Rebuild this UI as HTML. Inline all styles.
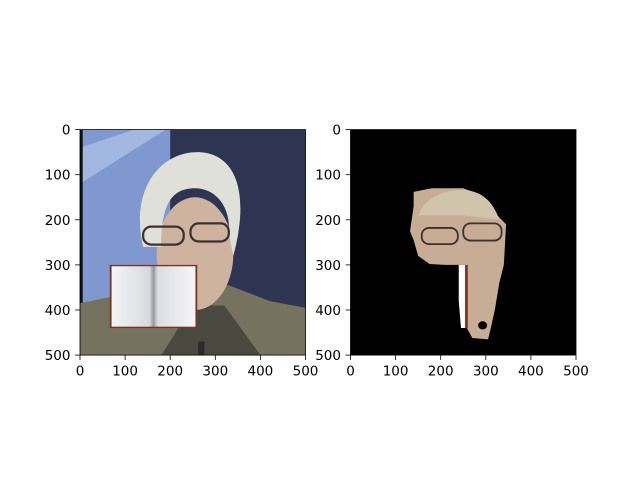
<!DOCTYPE html>
<html><head><meta charset="utf-8">
<style>
html,body{margin:0;padding:0;background:#fff;}
svg{display:block;font-family:"DejaVu Sans","Liberation Sans",sans-serif;}
</style></head>
<body>
<svg width="640" height="480" viewBox="0 0 640 480">
<defs>
<clipPath id="c1"><rect x="0" y="0" width="500" height="500"/></clipPath>
<linearGradient id="pg" x1="0" x2="1"><stop offset="0" stop-color="#f4f4f6"/><stop offset="0.45" stop-color="#d8dadf"/><stop offset="0.5" stop-color="#999"/><stop offset="0.55" stop-color="#dcdde2"/><stop offset="1" stop-color="#f6f6f8"/></linearGradient>
</defs>
<g transform="translate(80,129.6) scale(0.451)" clip-path="url(#c1)">
  <rect x="0" y="0" width="500" height="500" fill="#2e3452"/>
  <rect x="0" y="0" width="200" height="400" fill="#7f98cf"/>
  <path d="M0 40 L120 0 L190 0 L0 120Z" fill="#a3b8e0"/>
  <rect x="0" y="0" width="6" height="500" fill="#111"/>
  <path d="M0 385 L120 360 L200 345 L330 345 L420 380 L500 395 L500 500 L0 500Z" fill="#75735f"/>
  <path d="M180 500 L250 390 L320 390 L400 500Z" fill="#4a4940"/>
  <ellipse cx="255" cy="275" rx="85" ry="125" fill="#cdb3a0"/>
  <path d="M140 260 C110 130 180 50 260 50 C340 50 380 130 340 280 L330 230 C335 170 300 130 255 130 C200 130 180 170 180 260Z" fill="#dfe1d8"/>
  <rect x="140" y="215" width="90" height="40" rx="18" fill="none" stroke="#3a322c" stroke-width="5"/>
  <rect x="245" y="208" width="85" height="40" rx="18" fill="none" stroke="#3a322c" stroke-width="5"/>
  <rect x="66" y="300" width="194" height="140" fill="#7a3326"/>
  <rect x="70" y="303" width="186" height="134" fill="url(#pg)"/>
  <rect x="262" y="470" width="14" height="30" fill="#2a2a2a"/>
</g>
<rect x="80" y="129.6" width="225.5" height="225.5" fill="none" stroke="#000" stroke-width="0.8"/>
<g transform="translate(350.5,129.6) scale(0.451)">
  <rect x="0" y="0" width="500" height="500" fill="#000"/>
  <path d="M140 138 L180 130 L250 130 L290 145 L330 195 L345 210 L340 300 L330 340 L320 400 L310 445 L305 465 L270 462 L258 440 L255 300 L210 300 L175 298 L150 280 L140 245 L132 225 L140 170Z" fill="#c7ad96"/>
  <path d="M150 190 C170 140 230 130 260 135 C300 140 320 170 330 200 L250 190Z" fill="#d0c4ac"/>
  <rect x="158" y="218" width="80" height="36" rx="16" fill="none" stroke="#3a322c" stroke-width="4"/>
  <rect x="250" y="208" width="85" height="38" rx="16" fill="none" stroke="#3a322c" stroke-width="4"/>
  <path d="M240 300 L258 300 L258 440 L245 440 L240 380Z" fill="#fff"/>
  <rect x="254" y="300" width="6" height="140" fill="#7a3326"/>
  <ellipse cx="293" cy="434" rx="10" ry="9" fill="#000"/>
</g>
<rect x="350.5" y="129.6" width="225.5" height="225.5" fill="none" stroke="#000" stroke-width="0.8"/>
<g id="ticks" font-size="13.5" fill="#000"></g>
<script>
const tickVals=[0,100,200,300,400,500];
const axesX=[80,350.5];
const top0=129.6, size=225.5;
const g=document.getElementById('ticks');
const ns='http://www.w3.org/2000/svg';
axesX.forEach((ax,ai)=>{
  tickVals.forEach(v=>{
    const p=v/500*size;
    let l=document.createElementNS(ns,'line');
    l.setAttribute('x1',ax+p);l.setAttribute('x2',ax+p);l.setAttribute('y1',top0+size);l.setAttribute('y2',top0+size+4.9);l.setAttribute('stroke','#000');l.setAttribute('stroke-width','0.8');
    
    
    g.appendChild(l);
    let t=document.createElementNS(ns,'text');
    t.setAttribute('x',ax+p);t.setAttribute('y',top0+size+20.5);t.setAttribute('text-anchor','middle');t.textContent=v;
    
    
    g.appendChild(t);
    l=document.createElementNS(ns,'line');
    l.setAttribute('x1',ax-4.9);l.setAttribute('x2',ax);l.setAttribute('y1',top0+p);l.setAttribute('y2',top0+p);l.setAttribute('stroke','#000');l.setAttribute('stroke-width','0.8');
    
    
    g.appendChild(l);
    t=document.createElementNS(ns,'text');
    t.setAttribute('x',ax-9.5);t.setAttribute('y',top0+p+5);t.setAttribute('text-anchor','end');t.textContent=v;
    
    
    g.appendChild(t);
  });
});
</script>
</svg>
</body></html>
